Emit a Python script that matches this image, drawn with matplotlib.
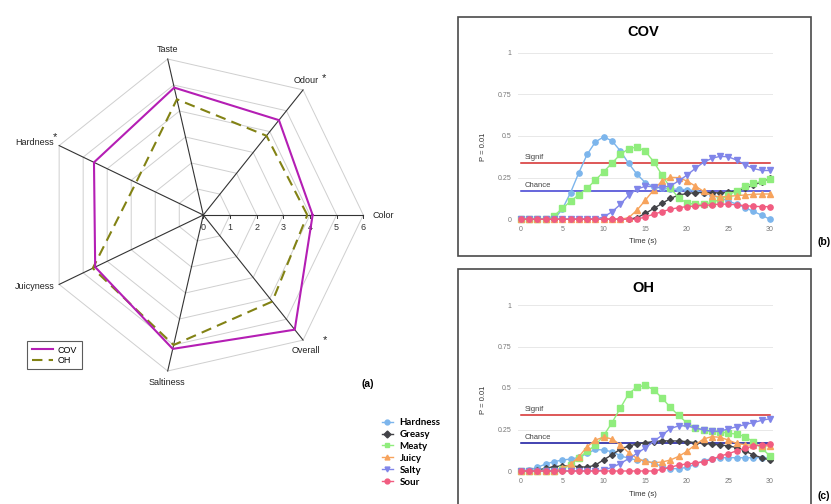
#Imports
import numpy as np
import matplotlib
matplotlib.use('Agg')
import matplotlib.pyplot as plt
from matplotlib.patches import Rectangle
from matplotlib.lines import Line2D

plt.rcParams['font.family'] = ['Liberation Sans', 'DejaVu Sans']

#Part (a): sensory scores, counter-clockwise starting from Color
attributes = ['Color', 'Odour', 'Taste', 'Hardness', 'Juicyness', 'Saltiness', 'Overall']
starred = ['Odour', 'Hardness', 'Overall']
cov_scores = [4.1, 4.55, 4.9, 4.55, 4.5, 5.15, 5.5]
oh_scores = [3.9, 3.8, 4.45, 2.8, 4.6, 5.0, 4.15]
scale_ticks = [0, 1, 2, 3, 4, 5, 6]

#Parts (b) and (c): TDS curves, one value per second
time = np.arange(0, 31)
tds_names = ['Hardness', 'Greasy', 'Meaty', 'Juicy', 'Salty', 'Sour']
tds_colors = ['#7cb5ec', '#434348', '#90ed7d', '#f7a35c', '#8085e9', '#f15c80']
tds_markers = ['o', 'D', 's', '^', 'v', 'o']

cov_hardness = [0, 0, 0, 0, 0, 0.06, 0.16, 0.28, 0.39, 0.465, 0.495, 0.47, 0.41, 0.335, 0.27, 0.22,
                0.195, 0.185, 0.182, 0.18, 0.178, 0.172, 0.16, 0.145, 0.128, 0.11, 0.09, 0.07, 0.047, 0.025, 0.0]
cov_greasy = [0, 0, 0, 0, 0, 0, 0, 0, 0, 0, 0, 0, 0, 0, 0.01, 0.035,
              0.065, 0.095, 0.125, 0.145, 0.155, 0.16, 0.16, 0.16, 0.158, 0.162, 0.172, 0.186, 0.205, 0.225, 0.245]
cov_meaty = [0, 0, 0, 0, 0.02, 0.065, 0.108, 0.148, 0.186, 0.236, 0.286, 0.338, 0.39, 0.424, 0.434, 0.408,
             0.346, 0.266, 0.19, 0.128, 0.098, 0.09, 0.09, 0.1, 0.12, 0.145, 0.172, 0.198, 0.215, 0.228, 0.242]
cov_juicy = [0, 0, 0, 0, 0, 0, 0, 0, 0, 0, 0, 0, 0, 0.01, 0.055, 0.115,
             0.176, 0.23, 0.252, 0.25, 0.23, 0.2, 0.168, 0.142, 0.134, 0.138, 0.142, 0.146, 0.15, 0.152, 0.152]
cov_salty = [0, 0, 0, 0, 0, 0, 0, 0, 0, 0, 0.015, 0.045, 0.09, 0.145, 0.182, 0.198,
             0.196, 0.19, 0.2, 0.23, 0.265, 0.305, 0.342, 0.366, 0.378, 0.375, 0.355, 0.328, 0.305, 0.293, 0.293]
cov_sour = [0, 0, 0, 0, 0, 0, 0, 0, 0, 0, 0, 0, 0, 0, 0, 0.015,
            0.03, 0.046, 0.06, 0.07, 0.076, 0.08, 0.083, 0.087, 0.092, 0.09, 0.087, 0.082, 0.078, 0.076, 0.076]

oh_hardness = [0, 0.006, 0.022, 0.042, 0.056, 0.066, 0.072, 0.082, 0.106, 0.13, 0.126, 0.116, 0.092, 0.076, 0.066, 0.062,
               0.046, 0.028, 0.014, 0.014, 0.022, 0.04, 0.062, 0.075, 0.08, 0.08, 0.08, 0.08, 0.08, 0.08, 0.078]
oh_greasy = [0, 0, 0.006, 0.016, 0.027, 0.03, 0.032, 0.026, 0.023, 0.036, 0.068, 0.098, 0.132, 0.15, 0.163, 0.171,
             0.177, 0.182, 0.181, 0.181, 0.177, 0.171, 0.167, 0.161, 0.157, 0.151, 0.141, 0.12, 0.097, 0.08, 0.066]
oh_meaty = [0, 0, 0, 0, 0, 0.012, 0.036, 0.078, 0.12, 0.155, 0.215, 0.292, 0.38, 0.466, 0.506, 0.516,
            0.49, 0.44, 0.384, 0.335, 0.29, 0.26, 0.248, 0.238, 0.235, 0.228, 0.222, 0.207, 0.175, 0.138, 0.09]
oh_juicy = [0, 0, 0, 0, 0, 0.018, 0.04, 0.086, 0.147, 0.187, 0.204, 0.193, 0.157, 0.11, 0.076, 0.058,
            0.05, 0.054, 0.066, 0.088, 0.118, 0.158, 0.193, 0.207, 0.203, 0.186, 0.166, 0.158, 0.155, 0.153, 0.15]
oh_salty = [0, 0, 0, 0, 0, 0, 0, 0, 0, 0, 0.006, 0.022, 0.045, 0.075, 0.106, 0.14,
            0.178, 0.215, 0.255, 0.272, 0.272, 0.259, 0.248, 0.239, 0.24, 0.254, 0.267, 0.28, 0.292, 0.305, 0.315]
oh_sour = [0, 0, 0, 0, 0, 0, 0, 0, 0, 0, 0, 0, 0, 0, 0, 0,
           0, 0.01, 0.022, 0.036, 0.042, 0.048, 0.056, 0.07, 0.09, 0.104, 0.122, 0.137, 0.15, 0.157, 0.16]

signif = 0.34
chance = 0.17

W, H = 831, 504
fig = plt.figure(figsize=(W / 100, H / 100), dpi=100)

#---------------- Radar (a) ----------------
ax = fig.add_axes([0, 1 - 400 / H, 410 / W, 400 / H])
u = 160 / 6  # px per scale unit
ax.set_xlim(-203.3 / u, (410 - 203.3) / u)
ax.set_ylim(-(400 - 215) / u, 215 / u)
ax.axis('off')

n = len(attributes)
ang = np.arange(n) * 2 * np.pi / n
ang_closed = np.append(ang, ang[0])

#heptagon grid
for r in scale_ticks[1:]:
    ax.plot(r * np.cos(ang_closed), r * np.sin(ang_closed), color='#cfcfcf', lw=0.7, zorder=1)
#spokes
for a in ang:
    ax.plot([0, 6 * np.cos(a)], [0, 6 * np.sin(a)], color='#333333', lw=0.8, zorder=2)
#ticks on the Color axis
for r in scale_ticks:
    ax.plot([r, r], [0, -0.13], color='#333333', lw=0.7)
    ax.annotate(str(r), (r, 0), xytext=(0, -13), textcoords='offset pixels',
                ha='center', va='center', fontsize=6.5, color='#333333')

cov_closed = np.append(cov_scores, cov_scores[0])
oh_closed = np.append(oh_scores, oh_scores[0])
ax.plot(cov_closed * np.cos(ang_closed), cov_closed * np.sin(ang_closed),
        color='#b41eb4', lw=1.5, zorder=4, label='COV')
ax.plot(oh_closed * np.cos(ang_closed), oh_closed * np.sin(ang_closed),
        color='#828214', lw=1.5, dashes=(5, 3), zorder=3, label='OH')

#attribute labels (pixel offsets from the spoke ends)
label_offsets = {'Color': (9, 0, 'left'), 'Odour': (3, 9, 'center'), 'Taste': (0, 10, 'center'),
                 'Hardness': (-5, 3, 'right'), 'Juicyness': (-5, -2, 'right'),
                 'Saltiness': (-1, -12, 'center'), 'Overall': (3, -10, 'center')}
star_offsets = {'Odour': (21, 12), 'Hardness': (-4, 9), 'Overall': (22, 0)}
for a, name in zip(ang, attributes):
    end = (6 * np.cos(a), 6 * np.sin(a))
    dx, dy, ha = label_offsets[name]
    ax.annotate(name, end, xytext=(dx, dy), textcoords='offset pixels',
                ha=ha, va='center', fontsize=6.5, color='#222222')
    if name in starred:
        sx, sy = star_offsets[name]
        ax.annotate('*', end, xytext=(sx, sy), textcoords='offset pixels',
                    ha='center', va='center', fontsize=8, color='#222222')

leg = ax.legend(loc='upper left', bbox_to_anchor=(27 / W, 1 - 341 / H), bbox_transform=fig.transFigure,
                fontsize=6.5, handlelength=2.4, fancybox=False, edgecolor='#333333',
                borderpad=0.5, labelspacing=0.15, handletextpad=0.5, borderaxespad=0)
leg.get_frame().set_linewidth(0.8)
fig.text(362 / W, 1 - 384 / H, '(a)', fontsize=7.5, fontweight='bold', ha='left', va='center')


#---------------- TDS panels (b) and (c) ----------------
def tds_panel(bottom_px, top_px, series, title, title_y, chance_color, ylabel_y, xlabel_y):
    axp = fig.add_axes([518.2 / W, 1 - bottom_px / H, 254.3 / W, (bottom_px - top_px) / H])
    axp.set_xlim(-0.3, 30.3)
    axp.set_ylim(0, 1)
    for s in axp.spines.values():
        s.set_visible(False)
    axp.set_yticks([0, 0.25, 0.5, 0.75, 1])
    axp.set_yticklabels(['0', '0.25', '0.5', '0.75', '1'])
    axp.set_xticks([0, 5, 10, 15, 20, 25, 30])
    axp.tick_params(length=0, labelsize=5, labelcolor='#777777', pad=5)
    axp.grid(axis='y', color='#e8e8e8', lw=0.7)
    axp.axhline(0, color='#d8dde8', lw=0.7, zorder=0.5)
    axp.set_axisbelow(True)

    axp.plot([0, 30], [signif, signif], color='#d42a2a', lw=1.1, zorder=1.5)
    axp.plot([0, 30], [chance, chance], color=chance_color, lw=1.1, zorder=1.5)
    axp.text(0.45, signif + 0.012, 'Signif', fontsize=5.5, color='#444444', va='bottom')
    axp.text(0.45, chance + 0.012, 'Chance', fontsize=5.5, color='#444444', va='bottom')

    for vals, c, m in zip(series, tds_colors, tds_markers):
        ms = 3.0 if m == 'D' else 3.8
        axp.plot(time, vals, color=c, marker=m, ms=ms, lw=1.0, mec=c, clip_on=False, zorder=3)

    fig.text(643 / W, 1 - title_y / H, title, fontsize=10.5, fontweight='bold', ha='center', va='center')
    fig.text(483 / W, 1 - ylabel_y / H, 'P = 0.01', fontsize=5.5, rotation=90,
             ha='center', va='center', color='#333333')
    fig.text(643 / W, 1 - xlabel_y / H, 'Time (s)', fontsize=5.5, ha='center', va='center', color='#333333')


#frames around the two panels
fig.patches.append(Rectangle((457.7 / W, 1 - 255.7 / H), 353.3 / W, 238.7 / H, transform=fig.transFigure,
                             fill=False, edgecolor='#4a4a4a', lw=1.2))
fig.patches.append(Rectangle((457.7 / W, -0.05), 353.3 / W, 1 - 269 / H + 0.05, transform=fig.transFigure,
                             fill=False, edgecolor='#4a4a4a', lw=1.2))

tds_panel(219.3, 52.7, [cov_hardness, cov_greasy, cov_meaty, cov_juicy, cov_salty, cov_sour],
          'COV', 32, '#3c3cd2', 147, 241.7)
tds_panel(471, 305, [oh_hardness, oh_greasy, oh_meaty, oh_juicy, oh_salty, oh_sour],
          'OH', 288, '#10109c', 400, 494.3)

fig.text(817 / W, 1 - 242 / H, '(b)', fontsize=7.5, fontweight='bold', ha='left', va='center')
fig.text(817 / W, 1 - 496 / H, '(c)', fontsize=7.5, fontweight='bold', ha='left', va='center')

#shared legend for the TDS curves
handles = [Line2D([0], [0], color=c, marker=m, ms=3.5, lw=1.0) for c, m in zip(tds_colors, tds_markers)]
fig.legend(handles, tds_names, loc='upper left', bbox_to_anchor=(382 / W, 1 - 418 / H), frameon=False,
           handlelength=1.1, handletextpad=0.7, labelspacing=0.3, borderaxespad=0, borderpad=0,
           prop={'family': 'Lato', 'weight': 'bold', 'size': 7})

fig.savefig('out.png', dpi=100)
